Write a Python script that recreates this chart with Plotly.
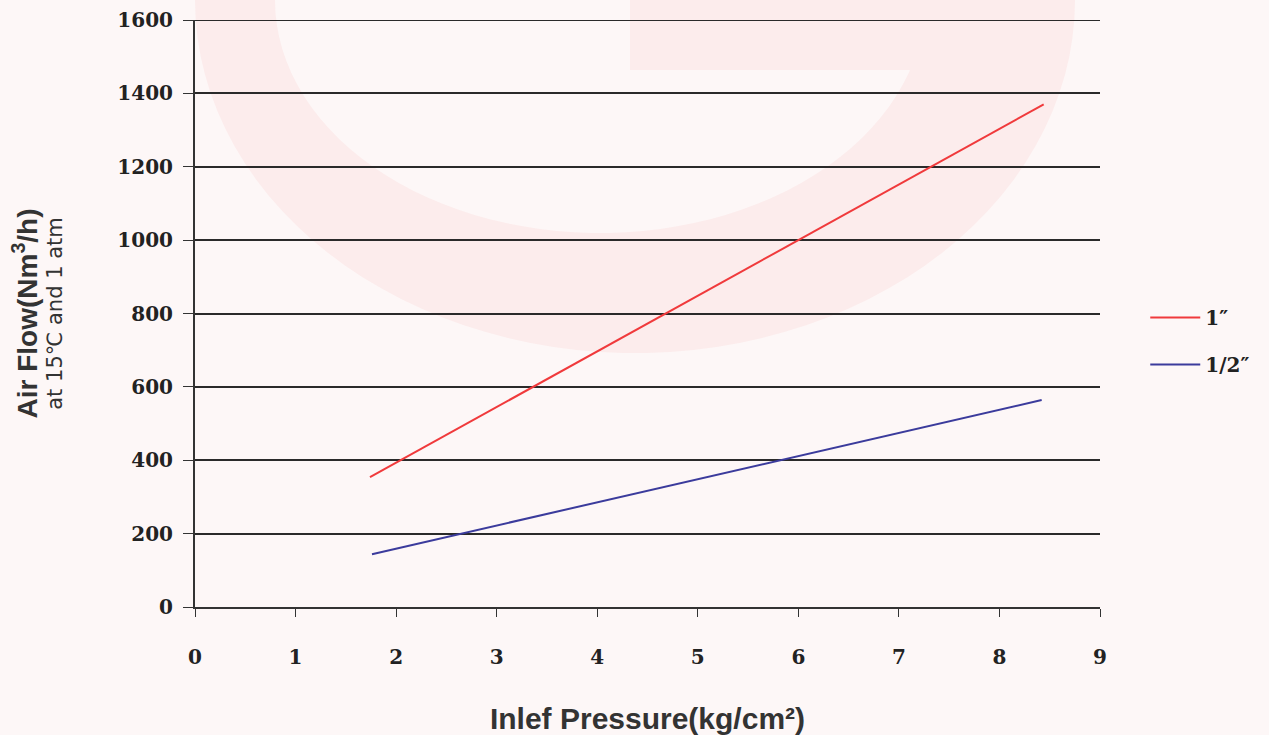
import numpy as np
import plotly.graph_objects as go

# Data
pressure_1in = [1.74, 8.44]
flow_1in = [354, 1370]
pressure_half = [1.76, 8.42]
flow_half = [144, 564]

series_names = ["1\u2033", "1/2\u2033"]
x_ticks = list(range(0, 10))
y_ticks = list(range(0, 1601, 200))

W, H = 1269, 735
ML, MR, MT, MB = 195, 169, 20, 128
PW, PH = W - ML - MR, H - MT - MB


def to_paper(px, py):
    return (px - ML) / PW, (H - MB - py) / PH


def ring_path():
    # faint decorative watermark (crescent) in the background, pixel space -> paper
    t_out = np.linspace(0, np.pi, 60)
    outer = [(635 - 440 * np.cos(t), 353 * np.sin(t)) for t in t_out]
    t_in = np.linspace(np.pi, 0, 60)
    inner = [(600 - 325 * np.cos(t), 233 * np.sin(t)) for t in t_in]
    pts = [(635 - 440, -5)] + outer + [(635 + 440, -5), (600 + 325, -5)] + inner + [(600 - 325, -5)]
    s = ""
    for i, (px, py) in enumerate(pts):
        x, y = to_paper(px, py)
        s += ("M" if i == 0 else "L") + f"{x:.4f},{y:.4f} "
    return s + "Z"


fig = go.Figure()
fig.add_trace(go.Scatter(x=pressure_1in, y=flow_1in, mode="lines", name=series_names[0],
                         legendgroup="a", line=dict(color="#f03a3c", width=2)))
fig.add_trace(go.Scatter(x=pressure_half, y=flow_half, mode="lines", name=series_names[1],
                         legendgroup="b", line=dict(color="#3b3b9c", width=2)))

wm_color = "#fcecec"
rx0, ry0 = to_paper(630, 70)
rx1, ry1 = to_paper(1058, -5)
shapes = [
    dict(type="path", path=ring_path(), xref="paper", yref="paper", fillcolor=wm_color,
         line=dict(width=0), layer="below"),
    dict(type="rect", x0=rx0, x1=rx1, y0=ry0, y1=ry1, xref="paper", yref="paper",
         fillcolor=wm_color, line=dict(width=0), layer="below"),
    dict(type="line", xref="paper", x0=0, x1=1, yref="y", y0=y_ticks[-1], y1=y_ticks[-1],
         line=dict(color="#2a2a2a", width=2)),
]

tick_font = dict(family="DejaVu Serif", size=20, color="#222222", weight="bold")

fig.update_layout(
    width=W, height=H,
    margin=dict(l=ML, r=MR, t=MT, b=MB),
    paper_bgcolor="#fdf7f7", plot_bgcolor="rgba(0,0,0,0)",
    shapes=shapes,
    showlegend=True,
    legend=dict(x=1.05, y=0.453, xanchor="left", yanchor="middle", itemwidth=50,
                font=dict(family="DejaVu Serif", size=20, color="#222222", weight="bold"),
                bgcolor="rgba(0,0,0,0)", tracegroupgap=18),
    xaxis=dict(range=[0, 9], tickvals=x_ticks, showgrid=False, zeroline=False, automargin=False,
               showline=True, linecolor="#333333", linewidth=2,
               ticks="outside", ticklen=8, tickcolor="#333333", tickwidth=1,
               ticklabelstandoff=23, tickfont=tick_font,
               title=dict(text="<b>Inlef Pressure(kg/cm²)</b>",
                          font=dict(family="Liberation Sans", size=30, color="#333333"),
                          standoff=43)),
    yaxis=dict(range=[0, 1600], tickvals=y_ticks, showgrid=True, gridcolor="#2a2a2a", gridwidth=2,
               zeroline=False, showline=True, linecolor="#333333", linewidth=2, automargin=False,
               ticks="outside", ticklen=10, tickcolor="#333333", tickwidth=1,
               ticklabelstandoff=6, tickfont=tick_font,
               title=dict(text="<b><span style='font-size:28px'>Air Flow(Nm<sup>3</sup>/h)</span></b><br><span style='font-size:21px;font-family:DejaVu Sans'>at 15\u2103 and 1 atm</span>",
                          font=dict(family="Liberation Sans", size=19, color="#333333"),
                          standoff=50)),
)

fig.write_html("out.html", config={"displayModeBar": False},
               post_script="document.body.style.margin='0';")
